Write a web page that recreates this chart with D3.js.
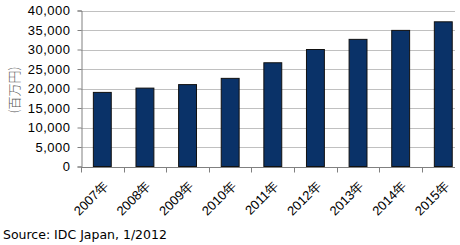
<!DOCTYPE html>
<html>
<head>
<meta charset="utf-8">
<script src="https://cdn.jsdelivr.net/npm/d3@7"></script>
<style>
  body { margin: 0; background: #fff; }
  svg { display: block; }
</style>
</head>
<body>
<script>
//chart data
var years = ["2007年", "2008年", "2009年", "2010年", "2011年", "2012年", "2013年", "2014年", "2015年"];
var values = [19000, 20100, 21000, 22600, 26600, 30000, 32600, 34900, 37100];
var yTicks = [0, 5000, 10000, 15000, 20000, 25000, 30000, 35000, 40000];

window.onload = drawChart();

function drawChart(){
    var width = 460,
        height = 245;

    var left = 81,
        top = 10.5,
        bottom = 166.5,
        bandRight = 464.6,
        gridRight = 455;

    var svg = d3.select("body")
        .append("svg")
        .attr("width", width)
        .attr("height", height);

    var x = d3.scaleBand()
        .domain(years)
        .range([left, bandRight])
        .paddingInner(0.58)
        .paddingOuter(0.29);

    var y = d3.scaleLinear()
        .domain([0, 40000])
        .range([bottom, top]);

    //gridlines
    svg.append("g")
        .selectAll("line")
        .data(yTicks.slice(1))
        .enter()
        .append("line")
        .attr("x1", left)
        .attr("x2", gridRight)
        .attr("y1", function(d){ return Math.round(y(d)) + 0.5; })
        .attr("y2", function(d){ return Math.round(y(d)) + 0.5; })
        .attr("stroke", "#c0c0c0")
        .attr("stroke-width", 1);

    //bars
    svg.append("g")
        .selectAll("rect")
        .data(values)
        .enter()
        .append("rect")
        .attr("x", function(d, i){ return x(years[i]); })
        .attr("width", x.bandwidth())
        .attr("y", function(d){ return y(d); })
        .attr("height", function(d){ return bottom - y(d); })
        .attr("fill", "#0a3268")
        .attr("stroke", "#111")
        .attr("stroke-width", 1);

    //y axis
    var yAxis = svg.append("g")
        .attr("transform", "translate(" + (left + 0.5) + ",0)")
        .call(d3.axisLeft(y)
            .tickValues(yTicks)
            .tickSize(4)
            .tickPadding(7)
            .tickFormat(d3.format(",")));
    yAxis.select(".domain").attr("stroke", "#808080");
    yAxis.selectAll(".tick line").attr("stroke", "#808080");
    yAxis.selectAll(".tick text")
        .attr("fill", "#000")
        .style("font-family", "'Liberation Sans', Arial, sans-serif")
        .style("font-size", "13px")
        .style("letter-spacing", "0.5px");

    //x axis
    var xAxis = svg.append("g")
        .attr("transform", "translate(0," + (Math.round(bottom) + 0.5) + ")");
    xAxis.append("line")
        .attr("x1", left)
        .attr("x2", gridRight)
        .attr("stroke", "#808080");
    xAxis.selectAll(".tick")
        .data(years)
        .enter()
        .append("line")
        .attr("x1", function(d){ return Math.round(x(d) - x.step() * x.paddingInner() / 2) + 0.5; })
        .attr("x2", function(d){ return Math.round(x(d) - x.step() * x.paddingInner() / 2) + 0.5; })
        .attr("y1", 0)
        .attr("y2", 5)
        .attr("stroke", "#808080");

    svg.append("g")
        .selectAll("text")
        .data(years)
        .enter()
        .append("text")
        .attr("transform", function(d){
            return "translate(" + (x(d) + x.bandwidth() / 2) + ",180) rotate(-45)";
        })
        .attr("dy", "0.72em")
        .attr("text-anchor", "end")
        .style("font-family", "'Liberation Sans', Arial, sans-serif")
        .style("font-size", "13px")
        .text(function(d){ return d; });

    //y axis title
    svg.append("text")
        .attr("transform", "translate(19,90) rotate(-90)")
        .attr("text-anchor", "middle")
        .style("font-family", "'Noto Sans CJK JP', sans-serif")
        .style("font-size", "13px")
        .style("font-weight", "300")
        .attr("fill", "#555")
        .text("(百万円)");

    //source note
    svg.append("text")
        .attr("x", 3)
        .attr("y", 239)
        .style("font-family", "'DejaVu Sans', Verdana, sans-serif")
        .style("font-size", "12.5px")
        .text("Source: IDC Japan, 1/2012");
}
</script>
</body>
</html>
